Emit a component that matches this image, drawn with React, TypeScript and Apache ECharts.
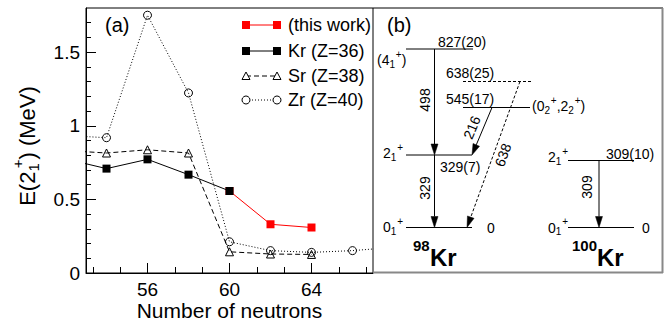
import React, { useEffect, useRef } from 'react';
import * as echarts from 'echarts';

const FONT = "'Liberation Sans', Arial, Helvetica, sans-serif";

// ---------- Panel (a) data ----------
const thisWorkN = [60, 62, 64];
const thisWorkE = [0.557, 0.331, 0.309];
const krN = [52, 54, 56, 58, 60];
const krE = [0.775, 0.709, 0.772, 0.668, 0.557];
const srN = [52, 54, 56, 58, 60, 62, 64];
const srE = [0.832, 0.815, 0.837, 0.815, 0.144, 0.129, 0.126];
const zrN = [52, 54, 56, 58, 60, 62, 64, 66, 68];
const zrE = [0.934, 0.919, 1.751, 1.223, 0.212, 0.152, 0.14, 0.152, 0.174];

const seriesNames = ['(this work)', 'Kr (Z=36)', 'Sr (Z=38)', 'Zr (Z=40)'];
const xAxisTitle = 'Number of neutrons';
const xLabelTicks = [56, 60, 64];
const xMinorTicks = [53.333, 54.667, 57.333, 58.667, 61.333, 62.667, 65.333, 66.667];
const yLabelTicks = [0, 0.5, 1, 1.5];
const yMinorTicks = [0.1, 0.2, 0.3, 0.4, 0.6, 0.7, 0.8, 0.9, 1.1, 1.2, 1.3, 1.4, 1.6, 1.7];

// ---------- Panel (b) level-scheme labels ----------
const kr98Levels = ['827(20)', '638(25)', '545(17)', '329(7)', '0'];
const kr98Gammas = ['498', '216', '638', '329'];
const kr100Levels = ['309(10)', '0'];
const kr100Gammas = ['309'];

const zip = (xs: number[], ys: number[]) => xs.map((x, i) => [x, ys[i]]);

let measureCtx: CanvasRenderingContext2D | null = null;
function measure(text: string, size: number, weight = 'normal') {
  if (!measureCtx) measureCtx = document.createElement('canvas').getContext('2d');
  const ctx = measureCtx!;
  ctx.font = `${weight} ${size}px ${FONT}`;
  return ctx.measureText(text).width;
}

function txt(text: string, x: number, y: number, size: number, opts: any = {}) {
  const align = opts.align || 'left';
  return {
    type: 'text',
    x,
    y,
    rotation: opts.rotation || 0,
    z: 20,
    style: {
      text,
      fontSize: size,
      fontFamily: FONT,
      fontWeight: opts.weight || 'normal',
      fill: '#000',
      align,
      textAlign: align,
      verticalAlign: 'middle',
      textVerticalAlign: 'middle',
    },
  };
}

type Part = { t: string; k?: 'sub' | 'sup'; stack?: boolean };
function richText(parts: Part[], x: number, y: number, size: number, align = 'left', rotation = 0) {
  const small = Math.round(size * 0.7);
  let cx = 0;
  let lastStart = 0;
  const items: any[] = [];
  for (const p of parts) {
    const fs = p.k ? small : size;
    const dy = p.k === 'sub' ? size * 0.3 : p.k === 'sup' ? -size * 0.42 : 0;
    let startX = cx + (p.k === 'sup' ? 0.8 : 0);
    if (p.stack) startX = lastStart + size * 0.15;
    const w = measure(p.t, fs);
    items.push({ t: p.t, x: startX, y: dy, fs });
    lastStart = startX;
    cx = Math.max(cx, startX + w);
  }
  const off = align === 'left' ? 0 : align === 'center' ? -cx / 2 : -cx;
  return {
    type: 'group',
    x,
    y,
    rotation,
    children: items.map((it) => txt(it.t, it.x + off, it.y, it.fs)),
  };
}

function hline(x1: number, x2: number, y: number, dashed = false) {
  return {
    type: 'line',
    z: 15,
    shape: { x1, y1: y, x2, y2: y },
    style: { stroke: '#000', lineWidth: 1, lineDash: dashed ? [3, 2] : null },
  };
}

function arrow(x1: number, y1: number, x2: number, y2: number, dashed = false) {
  const dx = x2 - x1;
  const dy = y2 - y1;
  const L = Math.hypot(dx, dy);
  const ux = dx / L;
  const uy = dy / L;
  const hl = 11;
  const hw = 3.5;
  const bx = x2 - ux * hl;
  const by = y2 - uy * hl;
  return [
    {
      type: 'line',
      z: 15,
      shape: { x1, y1, x2: bx, y2: by },
      style: { stroke: '#000', lineWidth: 1, lineDash: dashed ? [3, 2] : null },
    },
    {
      type: 'polygon',
      z: 16,
      shape: { points: [[x2, y2], [bx - uy * hw, by + ux * hw], [bx + uy * hw, by - ux * hw]] },
      style: { fill: '#000', stroke: '#000', lineWidth: 0.5 },
    },
  ];
}

function legendGraphics() {
  const rows = [25, 51, 76, 100];
  const xa = 246;
  const xb = 277;
  const out: any[] = [];
  const kinds = ['redsq', 'blacksq', 'tri', 'circ'];
  rows.forEach((y, i) => {
    const kind = kinds[i];
    const stroke = kind === 'redsq' ? '#ff0000' : '#000';
    out.push({
      type: 'line',
      z: 20,
      shape: { x1: xa, y1: y, x2: xb, y2: y },
      style: {
        stroke,
        lineWidth: 1,
        lineDash: kind === 'tri' ? [5, 3] : kind === 'circ' ? [1, 2] : null,
      },
    });
    [xa, xb].forEach((sx) => {
      if (kind === 'redsq' || kind === 'blacksq') {
        out.push({ type: 'rect', z: 21, shape: { x: sx - 4, y: y - 4, width: 8, height: 8 }, style: { fill: stroke } });
      } else if (kind === 'tri') {
        out.push({
          type: 'polygon',
          z: 21,
          shape: { points: [[sx, y - 4], [sx + 4, y + 3.5], [sx - 4, y + 3.5]] },
          style: { fill: '#fff', stroke: '#000', lineWidth: 1 },
        });
      } else {
        out.push({ type: 'circle', z: 21, shape: { cx: sx, cy: y, r: 4 }, style: { fill: '#fff', stroke: '#000', lineWidth: 1 } });
      }
    });
    out.push(txt(seriesNames[i], 288, y, 18));
  });
  return out;
}

function panelBGraphics() {
  const g: any[] = [];
  // frame
  g.push({ type: 'line', z: 5, shape: { x1: 373, y1: 8, x2: 663, y2: 8 }, style: { stroke: '#000', lineWidth: 1 } });
  g.push({ type: 'line', z: 5, shape: { x1: 662.5, y1: 8, x2: 662.5, y2: 273 }, style: { stroke: '#888', lineWidth: 2 } });
  g.push({ type: 'line', z: 5, shape: { x1: 373, y1: 272.5, x2: 663, y2: 272.5 }, style: { stroke: '#888', lineWidth: 2 } });
  g.push(txt('(b)', 387, 25, 20));

  // 98Kr levels
  g.push(hline(406, 473, 49));
  g.push(hline(463, 531, 81.5, true));
  g.push(hline(463, 530, 107.5));
  g.push(hline(406, 472, 155));
  g.push(hline(406, 472, 227.5));
  g.push(txt(kr98Levels[0], 438, 41.5, 14));
  g.push(txt(kr98Levels[1], 446, 73, 14));
  g.push(txt(kr98Levels[2], 446, 98.5, 14));
  g.push(txt(kr98Levels[3], 440, 166.5, 14));
  g.push(txt(kr98Levels[4], 487, 227.5, 14));
  g.push(richText([{ t: '(4' }, { t: '1', k: 'sub' }, { t: '+', k: 'sup' }, { t: ')' }], 377, 60, 14));
  g.push(
    richText(
      [{ t: '(0' }, { t: '2', k: 'sub' }, { t: '+', k: 'sup' }, { t: ',2' }, { t: '2', k: 'sub' }, { t: '+', k: 'sup' }, { t: ')' }],
      532,
      106,
      14
    )
  );
  g.push(richText([{ t: '2' }, { t: '1', k: 'sub' }, { t: '+', k: 'sup' }], 383, 153, 14));
  g.push(richText([{ t: '0' }, { t: '1', k: 'sub' }, { t: '+', k: 'sup' }], 383, 227, 14));
  // gammas
  g.push(...arrow(434.5, 49, 434.5, 155));
  g.push(...arrow(434.5, 155, 434.5, 227.5));
  g.push(...arrow(492, 107.5, 472, 155));
  g.push(...arrow(520, 81.5, 467, 227.5, true));
  g.push(txt(kr98Gammas[0], 425, 100, 14, { align: 'center', rotation: Math.PI / 2 }));
  g.push(txt(kr98Gammas[1], 472, 127.5, 14, { align: 'center', rotation: Math.atan2(47.5, 20) }));
  g.push(txt(kr98Gammas[2], 503, 155, 14, { align: 'center', rotation: Math.atan2(146, 53) }));
  g.push(txt(kr98Gammas[3], 425, 188, 14, { align: 'center', rotation: Math.PI / 2 }));
  // isotope label 98Kr
  g.push(txt('98', 413, 245.5, 15, { weight: 'bold' }));
  g.push(txt('Kr', 430, 257.5, 24, { weight: 'bold' }));

  // 100Kr
  g.push(hline(568, 634, 160.5));
  g.push(hline(568, 634, 227.5));
  g.push(txt(kr100Levels[0], 606, 153.5, 14));
  g.push(txt(kr100Levels[1], 642, 227.5, 14));
  g.push(richText([{ t: '2' }, { t: '1', k: 'sub' }, { t: '+', k: 'sup' }], 548, 157, 14));
  g.push(richText([{ t: '0' }, { t: '1', k: 'sub' }, { t: '+', k: 'sup' }], 548, 227.5, 14));
  g.push(...arrow(599, 160.5, 599, 227.5));
  g.push(txt(kr100Gammas[0], 587, 187, 14, { align: 'center', rotation: Math.PI / 2 }));
  g.push(txt('100', 572, 245.5, 15, { weight: 'bold' }));
  g.push(txt('Kr', 597, 257.5, 24, { weight: 'bold' }));
  return g;
}

export default function App() {
  const ref = useRef<HTMLDivElement>(null);
  useEffect(() => {
    if (!ref.current) return;
    const chart = echarts.init(ref.current, null, { renderer: 'svg' });
    const axisText = { fontSize: 19, color: '#000', fontFamily: FONT };
    const option: any = {
      animation: false,
      backgroundColor: '#fff',
      grid: {
        left: 86,
        right: 297,
        top: 8,
        bottom: 51,
        show: true,
        borderColor: '#000',
        borderWidth: 1,
        backgroundColor: 'transparent',
        outerBoundsMode: 'none',
      },
      xAxis: [
        {
          type: 'value',
          min: 53,
          max: 67,
          position: 'bottom',
          axisLine: { show: true, lineStyle: { color: '#000', width: 1 } },
          axisTick: { show: true, inside: true, length: 10, customValues: xLabelTicks, lineStyle: { color: '#000' } },
          axisLabel: { ...axisText, customValues: xLabelTicks, margin: 7 },
          splitLine: { show: false },
        },
        {
          type: 'value',
          min: 53,
          max: 67,
          position: 'bottom',
          axisLine: { show: false },
          axisTick: { show: true, inside: true, length: 6, customValues: xMinorTicks, lineStyle: { color: '#000' } },
          axisLabel: { show: false },
          splitLine: { show: false },
        },
      ],
      yAxis: [
        {
          type: 'value',
          min: 0,
          max: 1.8,
          position: 'left',
          axisLine: { show: true, lineStyle: { color: '#000', width: 1 } },
          axisTick: { show: true, inside: true, length: 10, customValues: yLabelTicks, lineStyle: { color: '#000' } },
          axisLabel: { ...axisText, customValues: yLabelTicks, margin: 6 },
          splitLine: { show: false },
        },
        {
          type: 'value',
          min: 0,
          max: 1.8,
          position: 'left',
          axisLine: { show: false },
          axisTick: { show: true, inside: true, length: 5, customValues: yMinorTicks, lineStyle: { color: '#000' } },
          axisLabel: { show: false },
          splitLine: { show: false },
        },
      ],
      series: [
        {
          name: seriesNames[3],
          type: 'line',
          data: zip(zrN, zrE),
          symbol: 'circle',
          symbolSize: 8,
          itemStyle: { color: 'transparent', borderColor: '#000', borderWidth: 1 },
          lineStyle: { color: '#000', width: 1, type: [1, 2] },
          z: 3,
        },
        {
          name: seriesNames[2],
          type: 'line',
          data: zip(srN, srE),
          symbol: 'triangle',
          symbolSize: 8,
          itemStyle: { color: 'transparent', borderColor: '#000', borderWidth: 1 },
          lineStyle: { color: '#000', width: 1, type: [5, 3] },
          z: 4,
        },
        {
          name: seriesNames[0],
          type: 'line',
          data: zip(thisWorkN, thisWorkE),
          symbol: 'rect',
          symbolSize: 8,
          itemStyle: { color: '#ff0000' },
          lineStyle: { color: '#ff0000', width: 1 },
          z: 5,
        },
        {
          name: seriesNames[1],
          type: 'line',
          data: zip(krN, krE),
          symbol: 'rect',
          symbolSize: 8,
          itemStyle: { color: '#000' },
          lineStyle: { color: '#000', width: 1 },
          z: 6,
        },
      ],
      graphic: [
        txt('(a)', 105, 25, 20),
        txt(xAxisTitle, 229.5, 310.5, 21, { align: 'center' }),
        richText(
          [{ t: 'E(2' }, { t: '1', k: 'sub' }, { t: '+', k: 'sup', stack: true }, { t: ') (MeV)' }],
          27,
          146,
          22,
          'center',
          Math.PI / 2
        ),
        ...legendGraphics(),
        ...panelBGraphics(),
      ],
    };
    chart.setOption(option);
    return () => chart.dispose();
  }, []);
  return (
    <div
      ref={ref}
      style={{ position: 'absolute', left: 0, top: 0, width: 670, height: 324, background: '#fff' }}
    />
  );
}
